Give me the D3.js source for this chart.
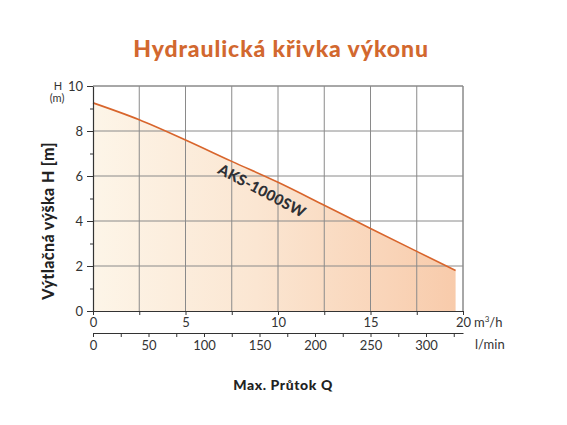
<!DOCTYPE html>
<html>
<head>
<meta charset="utf-8">
<script src="https://cdn.jsdelivr.net/npm/d3@7"></script>
<style>
  body { margin:0; background:#fff; }
  text { font-family: Lato, "Noto Sans", sans-serif; fill:#333; }
  .tick_label { font-size:13px; }
  .grid { stroke:#8a8a8a; stroke-width:1; }
</style>
</head>
<body>
<svg id="svg-chart" width="567" height="425"></svg>
<script>
// Data
var flow_m3h = [0, 2.5, 5, 7.5, 10, 12.5, 15, 17.5, 19.6];   // Q [m3/h]
var head_m = [9.25, 8.5, 7.6, 6.65, 5.72, 4.7, 3.67, 2.65, 1.8]; // H [m]
var x_ticks = [0, 5, 10, 15, 20];
var y_ticks = [0, 2, 4, 6, 8, 10];
var lmin_ticks = [0, 50, 100, 150, 200, 250, 300];
var model_name = "AKS-1000SW";

var svg = d3.select("#svg-chart");

// Layout
var plot = { left:93, right:463, top:86, bottom:311 };
var lmin_y = 333;

var xScale = d3.scaleLinear().domain([0, 20]).range([plot.left, plot.right]);
var yScale = d3.scaleLinear().domain([0, 10]).range([plot.bottom, plot.top]);
var lminScale = d3.scaleLinear().domain([0, 20*1000/60]).range([plot.left, plot.right]);

var data = flow_m3h.map(function(q, i) { return { q:q, h:head_m[i] }; });

// Gradient fill under curve
var defs = svg.append("defs");
var grad = defs.append("linearGradient").attr("id", "fillGrad")
               .attr("x1", "0%").attr("x2", "100%").attr("y1", "0%").attr("y2", "0%");
grad.append("stop").attr("offset", "0%").attr("stop-color", "#fdf5e8");
grad.append("stop").attr("offset", "45%").attr("stop-color", "#fbe6d2");
grad.append("stop").attr("offset", "100%").attr("stop-color", "#f8cbab");

var area = d3.area()
             .x(function(d) { return xScale(d.q); })
             .y0(yScale(0))
             .y1(function(d) { return yScale(d.h); })
             .curve(d3.curveMonotoneX);
svg.append("path")
   .datum(data)
   .attr("d", area)
   .style("fill", "url(#fillGrad)");

// Grid
svg.selectAll("vgrid")
   .data(d3.range(2.5, 20.01, 2.5))
   .enter()
   .append("line")
   .attr("class", "grid")
   .attr("x1", function(d) { return xScale(d); })
   .attr("x2", function(d) { return xScale(d); })
   .attr("y1", yScale(0))
   .attr("y2", yScale(10));
svg.selectAll("hgrid")
   .data([2, 4, 6, 8, 10])
   .enter()
   .append("line")
   .attr("class", "grid")
   .attr("x1", xScale(0))
   .attr("x2", xScale(20))
   .attr("y1", function(d) { return yScale(d); })
   .attr("y2", function(d) { return yScale(d); });

// Curve
var line = d3.line()
             .x(function(d) { return xScale(d.q); })
             .y(function(d) { return yScale(d.h); })
             .curve(d3.curveMonotoneX);
svg.append("path")
   .datum(data)
   .attr("d", line)
   .style("fill", "none")
   .style("stroke", "#d8652c")
   .style("stroke-width", 1.6);

// Model label along curve
svg.append("text")
   .attr("transform", "translate(" + xScale(9.0) + "," + yScale(5.14) + ") rotate(28)")
   .attr("text-anchor", "middle")
   .style("font-size", "15px")
   .style("font-weight", "900")
   .style("letter-spacing", "0.3px")
   .style("fill", "#2e3035")
   .text(model_name);

// Axes
var axisStyle = function(g) {
  g.select(".domain").style("stroke", "#333").style("stroke-width", 1.2);
  g.selectAll(".tick line").style("stroke", "#333");
  g.selectAll(".tick text").attr("class", "tick_label").style("font-size", "13px").style("fill", "#333");
};

// y axis - minor
svg.append("g")
   .attr("transform", "translate(" + plot.left + ",0)")
   .call(d3.axisLeft(yScale).tickValues(d3.range(0, 10.01, 1)).tickSize(3).tickFormat(""))
   .call(function(g) { g.select(".domain").remove(); g.selectAll(".tick line").style("stroke", "#333"); });
svg.append("g")
   .attr("transform", "translate(" + plot.left + ",0)")
   .call(d3.axisLeft(yScale).tickValues(y_ticks).tickSize(6).tickSizeOuter(0).tickPadding(4))
   .call(axisStyle);

// x axis m3/h
svg.append("g")
   .attr("transform", "translate(0," + plot.bottom + ")")
   .call(d3.axisBottom(xScale).tickValues(d3.range(0, 20.01, 2.5)).tickSize(4).tickSizeOuter(0)
         .tickFormat(function(d) { return x_ticks.indexOf(d) >= 0 ? d : ""; }).tickPadding(3))
   .call(axisStyle);

// x axis l/min
svg.append("g")
   .attr("transform", "translate(0," + lmin_y + ")")
   .call(d3.axisBottom(lminScale).tickValues(d3.range(0, 333, 25)).tickSize(4).tickSizeOuter(0)
         .tickFormat(function(d) { return lmin_ticks.indexOf(d) >= 0 ? d : ""; }).tickPadding(4))
   .call(axisStyle);

// Frame top/right
svg.append("line").attr("class", "grid")
   .attr("x1", xScale(0)).attr("x2", xScale(20)).attr("y1", yScale(10)).attr("y2", yScale(10));
svg.append("line").attr("class", "grid")
   .attr("x1", xScale(20)).attr("x2", xScale(20)).attr("y1", yScale(0)).attr("y2", yScale(10));

// Unit labels
svg.append("text").attr("x", 58).attr("y", 90).attr("text-anchor", "middle")
   .style("font-size", "11px").text("H");
svg.append("text").attr("x", 57).attr("y", 102).attr("text-anchor", "middle")
   .style("font-size", "11px").text("(m)");
var unit = svg.append("text").attr("x", xScale(20) + 11).attr("y", 327).style("font-size", "13px");
unit.append("tspan").text("m");
unit.append("tspan").attr("dy", -5).style("font-size", "8px").text("3");
unit.append("tspan").attr("dy", 5).text("/h");
svg.append("text").attr("x", 475).attr("y", 349).style("font-size", "13px").text("l/min");

// Titles
svg.append("text")
   .attr("x", 281).attr("y", 57)
   .attr("text-anchor", "middle")
   .style("font-size", "23px")
   .style("font-weight", "900")
   .style("letter-spacing", "0.9px")
   .style("fill", "#d2682f")
   .text("Hydraulická křivka výkonu");
svg.append("text")
   .attr("transform", "translate(54,221) rotate(-90)")
   .attr("text-anchor", "middle")
   .style("font-size", "16px")
   .style("font-weight", "900")
   .style("letter-spacing", "0.4px")
   .style("fill", "#222")
   .text("Výtlačná výška H [m]");
svg.append("text")
   .attr("x", 283).attr("y", 390)
   .attr("text-anchor", "middle")
   .style("font-size", "14px")
   .style("font-weight", "900")
   .style("letter-spacing", "0.6px")
   .style("fill", "#222")
   .text("Max. Průtok Q");
</script>
</body>
</html>
